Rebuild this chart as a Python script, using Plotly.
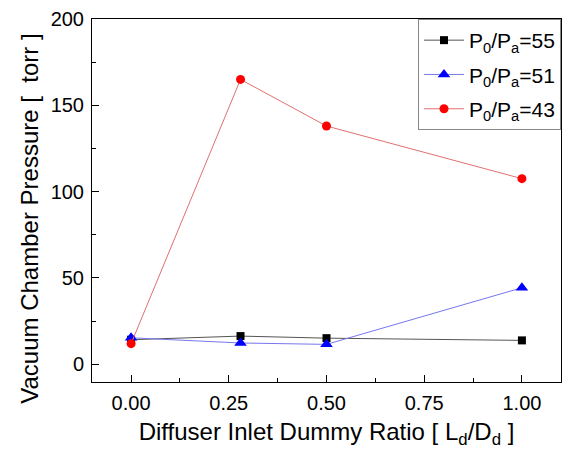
import plotly.graph_objects as go

# Diffuser inlet dummy ratio L_d/D_d
ratio = [0.0, 0.28, 0.5, 1.0]

# Vacuum chamber pressure [torr] for each pressure ratio P0/Pa
p55 = [14.2, 16.3, 15.1, 13.8]
p51 = [15.3, 12.3, 11.5, 44.3]
p43 = [11.9, 165.0, 138.0, 107.5]

series_names = ["P<sub>0</sub>/P<sub>a</sub>=55",
                "P<sub>0</sub>/P<sub>a</sub>=51",
                "P<sub>0</sub>/P<sub>a</sub>=43"]

x_ticks = [0.0, 0.25, 0.5, 0.75, 1.0]
x_ticklabels = ["0.00", "0.25", "0.50", "0.75", "1.00"]
y_ticks = [0, 50, 100, 150, 200]

FONT = "Liberation Sans, Arial, sans-serif"

fig = go.Figure()
fig.add_trace(go.Scatter(
    x=ratio, y=p55, name=series_names[0], mode="lines+markers", legendgroup="a",
    line=dict(color="#555555", width=1),
    marker=dict(symbol="square", size=8, color="black")))
fig.add_trace(go.Scatter(
    x=ratio, y=p51, name=series_names[1], mode="lines+markers", legendgroup="b",
    line=dict(color="#7777ee", width=1),
    marker=dict(symbol="triangle-up", size=11, color="#0000ff")))
fig.add_trace(go.Scatter(
    x=ratio, y=p43, name=series_names[2], mode="lines+markers", legendgroup="c",
    line=dict(color="#e07070", width=1),
    marker=dict(symbol="circle", size=9, color="#ff0000")))

axis_common = dict(
    showline=True, linecolor="black", linewidth=1, mirror=True,
    ticks="inside", ticklen=7, tickcolor="black", tickwidth=1,
    showgrid=False, zeroline=False, ticklabelstandoff=3,
    tickfont=dict(family=FONT, size=20, color="black"),
)

fig.update_xaxes(
    range=[-0.1, 1.1], tickvals=x_ticks, ticktext=x_ticklabels,
    minor=dict(ticks="inside", ticklen=4, tickcolor="black", dtick=0.125, tick0=0),
    title=dict(text="Diffuser Inlet Dummy Ratio [ L<sub>d</sub>/D<sub>d</sub> ]",
               font=dict(family=FONT, size=24, color="black"), standoff=10),
    **axis_common)
fig.update_yaxes(
    range=[-10.3, 200], tickvals=y_ticks,
    minor=dict(ticks="inside", ticklen=4, tickcolor="black", dtick=25, tick0=0),
    **axis_common)

# y-axis title, set slightly below the plot-area centre
fig.add_annotation(
    text="Vacuum Chamber Pressure [  torr ]", textangle=-90,
    xref="paper", yref="paper", x=-0.132, y=0.45,
    xanchor="center", yanchor="middle", showarrow=False,
    font=dict(family=FONT, size=24, color="black"))

fig.update_layout(
    width=570, height=457,
    margin=dict(l=92, r=8, t=17, b=75),
    paper_bgcolor="white", plot_bgcolor="white",
    legend=dict(x=1, y=1, xanchor="right", yanchor="top",
                bgcolor="white", bordercolor="#888888", borderwidth=1,
                font=dict(family=FONT, size=21, color="black"),
                itemwidth=40, tracegroupgap=4),
    showlegend=True,
)

fig.write_html("out.html")
